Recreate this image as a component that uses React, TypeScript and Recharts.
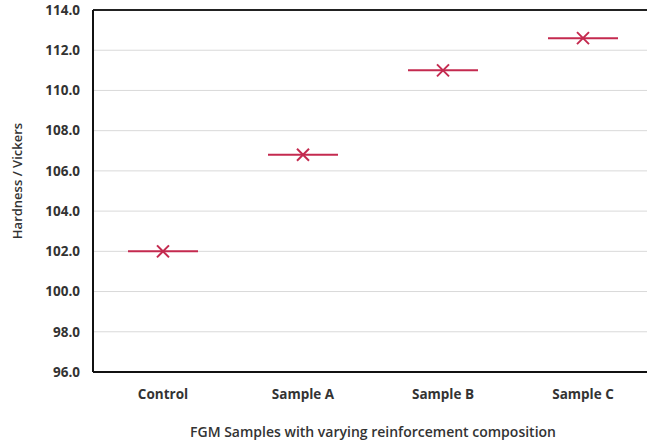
import React from 'react';
import { ComposedChart, Scatter, XAxis, YAxis, CartesianGrid, ReferenceLine } from 'recharts';

// sample names and measured hardness (HV)
const samples = ['Control', 'Sample A', 'Sample B', 'Sample C'];
const hardness = [102.0, 106.8, 111.0, 112.6];
const yTicks = [96, 98, 100, 102, 104, 106, 108, 110, 112, 114];

const chartData = samples.map((name, i) => ({ name, value: hardness[i] }));

const markColor = '#c42a4f';
const textColor = '#333';
const font = '"Open Sans", "Liberation Sans", sans-serif';

/* marker: a short horizontal dash with an X over the point */
const DashCross = (props: any) => {
    const { cx, cy } = props;
    if (cx == null || cy == null) return null;
    const half = 35;
    const s = 6;
    return (
        <g>
            <line x1={cx - half} y1={cy} x2={cx + half} y2={cy} stroke={markColor} strokeWidth={2} />
            <line x1={cx - s} y1={cy - s} x2={cx + s} y2={cy + s} stroke={markColor} strokeWidth={2} />
            <line x1={cx - s} y1={cy + s} x2={cx + s} y2={cy - s} stroke={markColor} strokeWidth={2} />
        </g>
    );
};

const tickStyle = { fill: textColor, fontSize: 13.5, fontWeight: 700, fontFamily: font };

const App = () => {
    return (
        // pinned to the page corner so chart coords equal page coords
        <div style={{ position: 'absolute', left: 0, top: 0, width: 647, height: 444, overflow: 'hidden' }}>
            <ComposedChart
                width={660}
                height={444}
                data={chartData}
                margin={{ top: 10, right: 7, bottom: 32, left: 0 }}
            >
                <CartesianGrid vertical={false} stroke="#d9d9d9" />
                <XAxis
                    dataKey="name"
                    type="category"
                    scale="band"
                    height={40}
                    tickLine={false}
                    tickSize={0}
                    tickMargin={17}
                    axisLine={{ stroke: '#111', strokeWidth: 2 }}
                    tick={tickStyle}
                    label={{
                        content: ({ viewBox }: any) => (
                            <text
                                x={viewBox.x + viewBox.width / 2}
                                y={437}
                                textAnchor="middle"
                                fill={textColor}
                                fontSize={14}
                                fontWeight={600}
                                fontFamily={font}
                            >
                                FGM Samples with varying reinforcement composition
                            </text>
                        ),
                    }}
                />
                <YAxis
                    type="number"
                    domain={[96, 114]}
                    ticks={yTicks}
                    width={93}
                    interval={0}
                    tickLine={false}
                    tickSize={0}
                    tickMargin={13}
                    tickFormatter={(v: number) => v.toFixed(1)}
                    axisLine={{ stroke: '#111', strokeWidth: 2 }}
                    tick={tickStyle}
                    label={{
                        content: () => (
                            <text
                                x={22}
                                y={181}
                                transform="rotate(-90, 22, 181)"
                                textAnchor="middle"
                                fill={textColor}
                                fontSize={13}
                                fontWeight={600}
                                fontFamily={font}
                            >
                                Hardness / Vickers
                            </text>
                        ),
                    }}
                />
                <ReferenceLine y={114} stroke="#222" strokeWidth={2} />
                <Scatter dataKey="value" shape={<DashCross />} isAnimationActive={false} />
            </ComposedChart>
        </div>
    );
};

export default App;
